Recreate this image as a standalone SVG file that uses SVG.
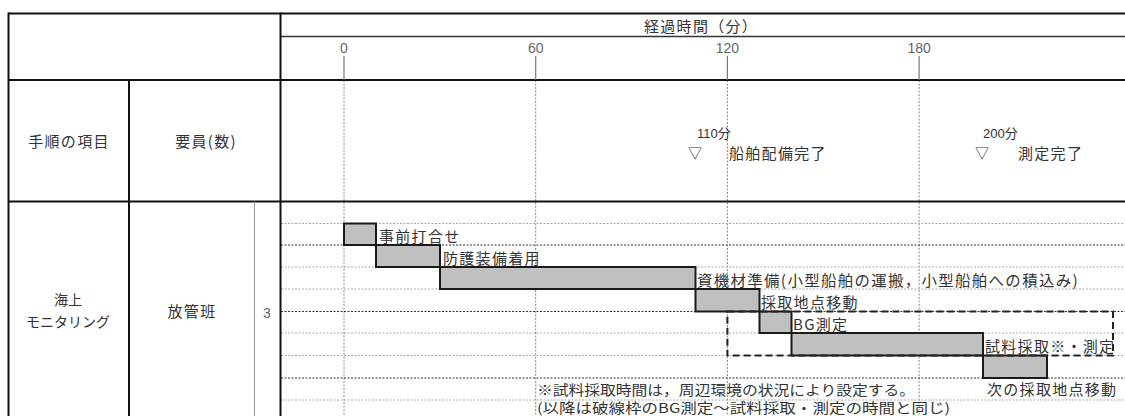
<svg xmlns="http://www.w3.org/2000/svg" width="1125" height="416" viewBox="0 0 1125 416">
<defs>
<style>
.frame{stroke:#111;stroke-width:2;fill:none}
.thin{stroke:#333;stroke-width:1.3;fill:none}
.gray{stroke:#999;stroke-width:1;fill:none}
.tick{stroke:#777;stroke-width:1.2}
.vgrid{stroke:#888;stroke-width:1;stroke-dasharray:2 1.5}
.rowd{stroke:#333;stroke-width:1;stroke-dasharray:2 1.5}
.rowl{stroke:#aaa;stroke-width:1;stroke-dasharray:2 1.5}
.bar{fill:#c0c0c0;stroke:#1a1a1a;stroke-width:2}
.box{fill:none;stroke:#222;stroke-width:2;stroke-dasharray:7 4}
.jp{font-family:"Noto Sans CJK JP","Noto Sans",sans-serif;font-size:15px;fill:#333;letter-spacing:1.3px}
.jps{font-family:"Noto Sans CJK JP","Noto Sans",sans-serif;font-size:14px;fill:#333}
.jpn{font-family:"Noto Sans CJK JP","Noto Sans",sans-serif;font-size:13.5px;fill:#333}
.num{font-family:"Liberation Sans","Noto Sans CJK JP",sans-serif;font-size:14px;fill:#666;text-anchor:middle}
.note{font-family:"Liberation Sans","Noto Sans CJK JP",sans-serif;font-size:13px;fill:#333}
</style>
</defs>
<rect width="1125" height="416" fill="#fff"/>

<g id="grid">
<line class="vgrid" x1="344" y1="80" x2="344" y2="416"/>
<line class="vgrid" x1="535.7" y1="80" x2="535.7" y2="416"/>
<line class="vgrid" x1="727.4" y1="80" x2="727.4" y2="416"/>
<line class="vgrid" x1="919.1" y1="80" x2="919.1" y2="416"/>
<line class="rowl" x1="281" y1="223.5" x2="1125" y2="223.5"/>
<line class="rowd" x1="281" y1="245" x2="1125" y2="245"/>
<line class="rowl" x1="281" y1="267" x2="1125" y2="267"/>
<line class="rowl" x1="281" y1="289" x2="1125" y2="289"/>
<line class="rowd" x1="281" y1="311.5" x2="1125" y2="311.5"/>
<line class="rowl" x1="281" y1="333" x2="1125" y2="333"/>
<line class="rowl" x1="281" y1="355.5" x2="1125" y2="355.5"/>
<line class="rowd" x1="281" y1="378" x2="1125" y2="378"/>
<line class="rowl" x1="281" y1="400" x2="1125" y2="400"/>
</g>

<g id="table">
<line class="frame" x1="8" y1="13.5" x2="1125" y2="13.5"/>
<line class="thin" x1="280" y1="36.5" x2="1125" y2="36.5"/>
<line class="frame" x1="8" y1="80" x2="1125" y2="80"/>
<line class="frame" x1="8" y1="201.5" x2="1125" y2="201.5"/>
<line class="frame" x1="8.5" y1="12.5" x2="8.5" y2="416"/>
<line class="frame" x1="129" y1="80" x2="129" y2="416"/>
<line class="frame" x1="280.5" y1="12.5" x2="280.5" y2="416"/>
<line class="gray" x1="254.5" y1="201.5" x2="254.5" y2="416"/>
</g>

<g id="axis">
<text class="jp" x="644" y="32">経過時間（分）</text>
<text class="num" x="344" y="53">0</text>
<text class="num" x="535.7" y="53">60</text>
<text class="num" x="727.4" y="53">120</text>
<text class="num" x="919.1" y="53">180</text>
<line class="tick" x1="344" y1="56" x2="344" y2="80"/>
<line class="tick" x1="535.7" y1="56" x2="535.7" y2="80"/>
<line class="tick" x1="727.4" y1="56" x2="727.4" y2="80"/>
<line class="tick" x1="919.1" y1="56" x2="919.1" y2="80"/>
</g>

<g id="heading">
<text class="jp" x="69" y="147" text-anchor="middle">手順の項目</text>
<text class="jp" x="206" y="147" text-anchor="middle">要員(数)</text>
</g>

<g id="milestone-110">
<text class="note" x="697" y="138">110分</text>
<text class="jps" x="695" y="158" text-anchor="middle">▽</text>
<text class="jp" x="729" y="159">船舶配備完了</text>
</g>
<g id="milestone-200">
<text class="note" x="983" y="138">200分</text>
<text class="jps" x="982" y="158" text-anchor="middle">▽</text>
<text class="jp" x="1018" y="159" letter-spacing="0">測定完了</text>
</g>

<g id="item">
<text class="jps" x="68" y="305" text-anchor="middle">海上</text>
<text class="jps" x="68" y="327" text-anchor="middle">モニタリング</text>
</g>
<g id="team">
<text class="jp" x="192" y="317" text-anchor="middle">放管班</text>
<text class="num" x="267" y="318" font-size="13">3</text>
</g>

<g id="task1">
<rect class="bar" x="344" y="223.5" width="32" height="21.5"/>
<text class="jp" x="379" y="242">事前打合せ</text>
</g>
<g id="task2">
<rect class="bar" x="376" y="245" width="64" height="22"/>
<text class="jp" x="443" y="264">防護装備着用</text>
</g>
<g id="task3">
<rect class="bar" x="440" y="267" width="255.5" height="22"/>
<text class="jp" x="697" y="286" textLength="382" lengthAdjust="spacingAndGlyphs">資機材準備(小型船舶の運搬，小型船舶への積込み)</text>
</g>
<g id="task4">
<rect class="bar" x="695.5" y="289" width="64" height="22.5"/>
<text class="jp" x="761" y="308">採取地点移動</text>
</g>
<g id="task5">
<rect class="bar" x="759.5" y="311.5" width="32" height="21.5"/>
<text class="jp" x="793" y="330">BG測定</text>
</g>
<g id="task6">
<rect class="bar" x="791.5" y="333" width="191.5" height="22.5"/>
<text class="jp" x="985" y="352">試料採取※・測定</text>
</g>
<g id="task7">
<rect class="bar" x="983" y="355.5" width="64" height="22.5"/>
<text class="jp" x="987" y="395">次の採取地点移動</text>
</g>
<g id="repeat-box">
<rect class="box" x="727.4" y="311.5" width="385.6" height="44"/>
</g>

<g id="notes">
<text class="jpn" x="537" y="395" textLength="378" lengthAdjust="spacingAndGlyphs">※試料採取時間は，周辺環境の状況により設定する。</text>
<text class="jpn" x="537" y="413" textLength="413" lengthAdjust="spacingAndGlyphs">(以降は破線枠のBG測定～試料採取・測定の時間と同じ)</text>
</g>
<g id="connectors"></g>
</svg>
